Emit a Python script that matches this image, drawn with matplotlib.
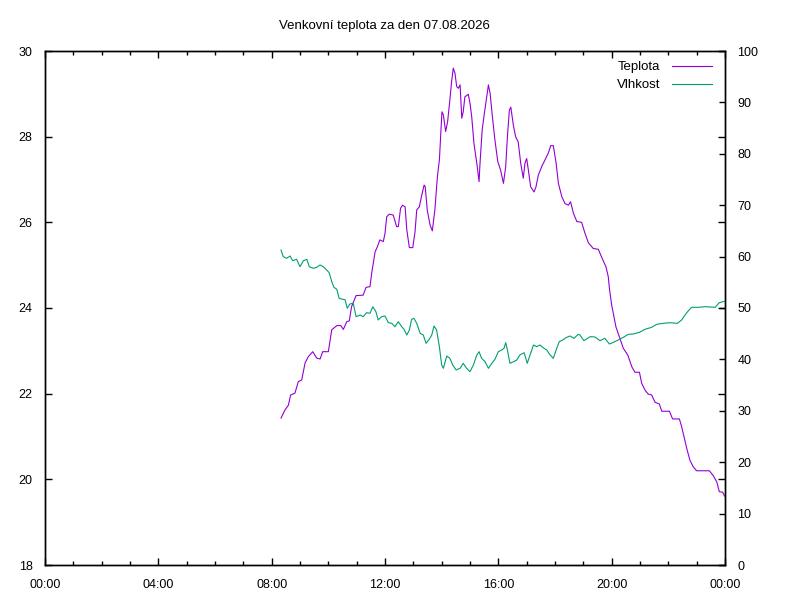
import matplotlib.pyplot as plt
from matplotlib.ticker import MultipleLocator, FuncFormatter

plt.rcParams['font.family'] = ['Liberation Sans', 'DejaVu Sans']

# --- data (time in hours of the day) ---
temp_time = [8.33, 8.47, 8.59, 8.67, 8.82, 8.94, 9.06, 9.18, 9.29, 9.45, 9.59, 9.71, 9.80,
             10.00, 10.12, 10.30, 10.44, 10.53, 10.65, 10.74, 10.82, 10.98, 11.23, 11.33,
             11.47, 11.53, 11.65, 11.73, 11.82, 11.94, 12.00, 12.06, 12.15, 12.29, 12.41,
             12.47, 12.55, 12.62, 12.71, 12.77, 12.86, 12.98, 13.06, 13.12, 13.21, 13.30,
             13.38, 13.42, 13.49, 13.59, 13.67, 13.76, 13.85, 13.92, 13.97, 14.01, 14.06,
             14.14, 14.21, 14.29, 14.35, 14.41, 14.47, 14.53, 14.59, 14.65, 14.71, 14.76,
             14.82, 14.94, 15.00, 15.06, 15.14, 15.24, 15.32, 15.35, 15.43, 15.50, 15.59,
             15.65, 15.71, 15.79, 15.88, 15.98, 16.08, 16.18, 16.26, 16.32, 16.39, 16.44,
             16.53, 16.61, 16.70, 16.79, 16.88, 16.94, 17.00, 17.06, 17.14, 17.26, 17.33,
             17.41, 17.53, 17.65, 17.76, 17.85, 17.94, 18.04, 18.12, 18.24, 18.35, 18.47,
             18.55, 18.65, 18.77, 18.94, 19.06, 19.18, 19.35, 19.53, 19.65, 19.80, 19.88,
             19.92, 20.00, 20.08, 20.15, 20.27, 20.41, 20.57, 20.71, 20.82, 20.98, 21.06,
             21.18, 21.29, 21.41, 21.53, 21.68, 21.77, 22.04, 22.15, 22.39, 22.47, 22.55,
             22.65, 22.76, 22.88, 23.00, 23.18, 23.35, 23.45, 23.59, 23.71, 23.80, 23.92,
             23.98]
teplota = [21.43, 21.62, 21.73, 21.97, 22.01, 22.28, 22.32, 22.72, 22.86, 22.98, 22.83, 22.81,
           22.98, 22.98, 23.49, 23.59, 23.59, 23.50, 23.68, 23.70, 24.03, 24.29, 24.30, 24.48,
           24.50, 24.81, 25.31, 25.43, 25.59, 25.55, 25.74, 26.13, 26.19, 26.17, 25.90, 25.90,
           26.33, 26.40, 26.36, 25.82, 25.41, 25.41, 25.78, 26.29, 26.36, 26.64, 26.87, 26.83,
           26.29, 25.94, 25.80, 26.29, 27.07, 27.46, 28.08, 28.58, 28.51, 28.12, 28.35, 28.86,
           29.28, 29.60, 29.48, 29.17, 29.13, 29.21, 28.43, 28.58, 28.93, 28.99, 28.78, 28.47,
           27.84, 27.38, 26.95, 27.34, 28.16, 28.51, 28.93, 29.21, 29.01, 28.47, 27.92, 27.42,
           27.22, 26.91, 27.30, 28.00, 28.62, 28.69, 28.27, 28.00, 27.88, 27.38, 27.03, 27.38,
           27.49, 27.22, 26.83, 26.71, 26.83, 27.10, 27.30, 27.46, 27.61, 27.79, 27.79, 27.38,
           26.91, 26.60, 26.44, 26.40, 26.48, 26.21, 26.02, 26.00, 25.74, 25.52, 25.39, 25.37,
           25.18, 24.96, 24.73, 24.46, 24.07, 23.80, 23.56, 23.33, 23.06, 22.90, 22.63, 22.50,
           22.50, 22.24, 22.08, 21.99, 21.97, 21.80, 21.76, 21.59, 21.59, 21.41, 21.41, 21.23,
           21.00, 20.72, 20.45, 20.29, 20.20, 20.20, 20.20, 20.20, 20.08, 19.94, 19.71, 19.70,
           19.61]

hum_time = [8.33, 8.41, 8.53, 8.65, 8.74, 8.88, 9.00, 9.12, 9.24, 9.33, 9.47, 9.59, 9.71,
            9.82, 9.94, 10.03, 10.12, 10.20, 10.30, 10.38, 10.51, 10.59, 10.67, 10.76, 10.88,
            10.98, 11.12, 11.23, 11.35, 11.47, 11.57, 11.68, 11.76, 11.88, 12.00, 12.12,
            12.24, 12.35, 12.47, 12.59, 12.67, 12.77, 12.86, 12.94, 13.02, 13.12, 13.24,
            13.35, 13.45, 13.56, 13.65, 13.73, 13.82, 13.92, 14.00, 14.06, 14.18, 14.29,
            14.39, 14.51, 14.65, 14.76, 14.88, 15.00, 15.12, 15.24, 15.32, 15.41, 15.53,
            15.65, 15.77, 15.88, 16.00, 16.12, 16.20, 16.26, 16.32, 16.41, 16.53, 16.65,
            16.76, 16.91, 17.02, 17.12, 17.24, 17.35, 17.47, 17.61, 17.71, 17.80, 17.94,
            18.04, 18.15, 18.27, 18.41, 18.53, 18.67, 18.82, 18.88, 19.02, 19.24, 19.41,
            19.59, 19.76, 19.92, 20.06, 20.23, 20.41, 20.59, 20.76, 20.98, 21.18, 21.41,
            21.59, 21.82, 22.06, 22.32, 22.47, 22.59, 22.71, 22.82, 23.06, 23.29, 23.65,
            23.80, 23.98]
vlhkost = [61.28, 59.98, 59.67, 60.12, 59.20, 59.47, 58.03, 59.20, 59.47, 58.03, 57.72, 57.92,
           58.37, 58.03, 57.39, 56.87, 55.12, 54.02, 53.63, 51.88, 51.69, 51.60, 49.94, 50.78,
           50.91, 48.31, 48.64, 48.31, 49.09, 48.97, 50.25, 49.28, 47.67, 48.31, 48.44, 47.14,
           47.02, 46.36, 47.33, 46.36, 45.86, 44.75, 45.72, 47.80, 47.99, 47.02, 45.08, 44.75,
           43.13, 43.91, 44.75, 46.50, 45.72, 42.47, 38.91, 38.27, 40.66, 40.21, 38.91, 37.94,
           38.27, 39.24, 38.27, 37.61, 38.91, 40.86, 41.50, 40.21, 39.55, 38.27, 39.24, 40.02,
           41.50, 41.83, 42.16, 43.25, 41.83, 39.24, 39.55, 39.88, 40.86, 41.30, 39.24, 40.86,
           42.80, 42.47, 42.80, 42.16, 41.83, 41.05, 40.21, 41.83, 43.45, 43.77, 44.29, 44.55,
           44.10, 44.88, 44.75, 43.64, 44.42, 44.36, 43.64, 44.10, 43.00, 43.32, 43.77, 44.29,
           44.88, 44.94, 45.27, 45.86, 46.24, 46.82, 47.02, 47.14, 47.02, 47.67, 48.64, 49.48,
           50.13, 50.13, 50.26, 50.13, 51.03, 51.30]

title = "Venkovní teplota za den 07.08.2026"

# --- figure ---
fig = plt.figure(figsize=(8, 6), dpi=100)
ax = fig.add_axes([45 / 800, 35 / 600, 680 / 800, 514 / 600])
ax2 = ax.twinx()

l1, = ax.plot(temp_time, teplota, color='#9400D3', lw=0.8, label='Teplota')
l2, = ax2.plot(hum_time, vlhkost, color='#009E73', lw=0.8, label='Vlhkost')

ax.set_xlim(0, 24)
ax.set_ylim(18, 30)
ax2.set_ylim(0, 100)

ax.xaxis.set_major_locator(MultipleLocator(4))
ax.xaxis.set_minor_locator(MultipleLocator(1))
ax.xaxis.set_major_formatter(FuncFormatter(lambda v, p: "%02d:00" % (int(round(v)) % 24)))
ax.yaxis.set_major_locator(MultipleLocator(2))
ax2.yaxis.set_major_locator(MultipleLocator(10))

ax.tick_params(axis='both', which='major', direction='in', length=5, width=1,
               top=True, right=True, labelsize=9, colors='black')
ax.tick_params(axis='x', which='major', pad=10)
ax.tick_params(axis='y', which='major', pad=9)
ax.tick_params(axis='x', which='minor', direction='in', length=3, width=1, top=True)
ax2.tick_params(axis='y', which='major', direction='in', length=4.5, width=1,
                labelsize=9, pad=9)

for a in (ax, ax2):
    for s in a.spines.values():
        s.set_linewidth(1.0)

fig.text(384 / 800, 1 - 26 / 600, title, ha='center', va='center', fontsize=9.5)

ax.legend(handles=[l1, l2], loc='upper right', frameon=False, markerfirst=False,
          fontsize=9.5, handlelength=3.0, handletextpad=0.9, labelspacing=0.45,
          borderpad=0, borderaxespad=0,
          bbox_to_anchor=(712 / 800, 1 - 61 / 600), bbox_transform=fig.transFigure)

fig.savefig('out.png', dpi=100)
